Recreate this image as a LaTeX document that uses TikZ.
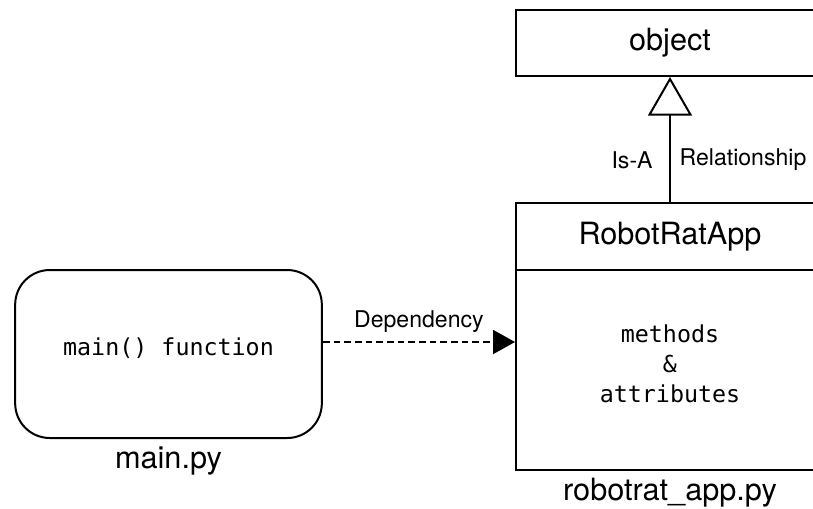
\documentclass[tikz,border=0pt]{standalone}
\usepackage{fontspec}
\setmainfont{TeX Gyre Heros}
\setmonofont{DejaVu Sans Mono}
\usetikzlibrary{arrows.meta,positioning}

\tikzset{
  classbox/.style={draw, line width=1.5pt, rectangle, minimum width=231pt, inner sep=0pt,
    font=\fontsize{23}{27}\selectfont},
  modulebox/.style={draw, line width=1.5pt, rounded corners=26pt, minimum width=230pt,
    minimum height=126pt},
  code/.style={inner sep=0pt, align=center, font=\ttfamily\fontsize{17.5}{22.5}\selectfont},
  filename/.style={inner sep=0pt, font=\fontsize{23}{27}\selectfont},
  linklabel/.style={inner sep=0pt, font=\fontsize{17.3}{20}\selectfont},
}

\begin{document}
\begin{tikzpicture}[x=0.75pt,y=-0.75pt]
\useasboundingbox (0,0) rectangle (813,508);

% class boxes on the right
\node[classbox, minimum height=49.5pt] (obj) at (670,43) {object};
\node[classbox, minimum height=50.25pt] (hdr) at (670,236.5) {RobotRatApp};
\node[classbox, minimum height=150pt] (body) at (670,370) {};
\node[code] (members) at ([yshift=5pt]body.center) {methods\\\&\\attributes};
\node[filename, anchor=base] (appfile) at (670,500) {robotrat\_app.py};

% module with the entry point
\node[modulebox] (mainbox) at (168.5,354) {};
\node[code] (mainfn) at ([yshift=4.5pt]mainbox.center) {main() function};
\node[filename, below=6pt of mainbox] (mainfile) {main.py};

% inheritance
\draw[line width=1.5pt, -{Triangle[open, length=29pt, width=33pt, line width=1.5pt]}]
  (hdr) -- (obj);
\node[linklabel] (isa) at (632,160) {Is-A};
\node[linklabel] (rel) at (743,160) {Relationship};

% dependency
\draw[line width=1.5pt, dash pattern=on 5pt off 3pt, -{Triangle[length=16.5pt, width=18pt]}]
  ([yshift=9pt]mainbox.east) -- ([yshift=9pt]mainbox.east -| body.west)
  node[linklabel, midway, above=6pt] (dep) {Dependency};
\end{tikzpicture}
\end{document}
